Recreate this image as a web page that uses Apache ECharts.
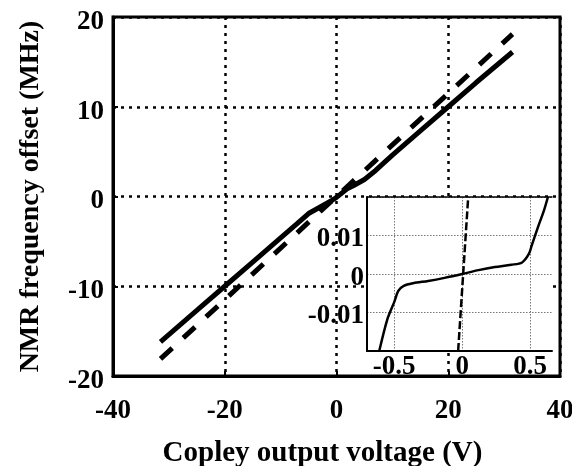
<!DOCTYPE html>
<html>
<head>
<meta charset="utf-8">
<script src="https://cdn.jsdelivr.net/npm/echarts@6/dist/echarts.min.js"></script>
<style>
html,body{margin:0;padding:0;background:#fff;}
#chart{width:572px;height:466px;}
</style>
</head>
<body>
<div id="chart"></div>
<script>
// Main plot data (Copley output voltage in V, NMR frequency offset in MHz)
var mainSolidV = [-31.5, -25, -20, -15, -10, -7, -5, -3, -1, 0, 1, 2, 3, 5, 7, 10, 15, 20, 25, 31.5];
var mainSolidF = [-16.2, -12.7, -10.0, -7.3, -4.6, -3.0, -1.9, -1.2, -0.5, -0.1, 0.4, 0.9, 1.2, 1.9, 2.9, 4.6, 7.3, 10.0, 12.7, 16.1];
var mainDashV = [-31.5, 31.5];
var mainDashF = [-18.1, 18.1];

// Inset data
var insetSolidV = [-0.61, -0.55, -0.50, -0.47, -0.43, -0.36, -0.25, -0.13, 0, 0.12, 0.24, 0.36, 0.44, 0.49, 0.51, 0.56, 0.60, 0.63];
var insetSolidF = [-0.02, -0.0117, -0.0073, -0.0044, -0.0031, -0.0024, -0.0018, -0.001, 0, 0.001, 0.0018, 0.0024, 0.003, 0.0052, 0.0073, 0.0125, 0.0164, 0.02];
var insetDashV = [-0.03, 0.044];
var insetDashF = [-0.02, 0.02];

// Tick labels
var mainXTicks = [-40, -20, 0, 20, 40];
var mainYTicks = [-20, -10, 0, 10, 20];
var insetXTicks = [-0.5, 0, 0.5];
var insetYTicks = [-0.01, 0, 0.01];

function zip(a, b) { return a.map(function (v, i) { return [v, b[i]]; }); }

var FONT = 'Liberation Serif';
var labelStyle = { fontFamily: FONT, fontWeight: 'bold', fontSize: 27, color: '#000' };

var chart = echarts.init(document.getElementById('chart'), null, { renderer: 'canvas' });
chart.setOption({
  animation: false,
  backgroundColor: '#fff',
  grid: [
    { left: 113, top: 17, right: 12, bottom: 90, show: true, borderColor: '#000', borderWidth: 3, backgroundColor: 'transparent', z: 0, containLabel: false, outerBoundsMode: 'none' },
    { left: 367, top: 197, right: 20, bottom: 115, show: true, borderWidth: 0, backgroundColor: '#fff', z: 10, containLabel: false, outerBoundsMode: 'none' }
  ],
  xAxis: [
    {
      type: 'value', gridIndex: 0, min: mainXTicks[0], max: mainXTicks[mainXTicks.length - 1], interval: 20,
      name: 'Copley output voltage (V)', nameLocation: 'middle', nameGap: 63,
      nameTextStyle: { fontFamily: FONT, fontWeight: 'bold', fontSize: 29, color: '#000', padding: [0, 28, 0, 0] },
      axisLine: { show: true, onZero: false, lineStyle: { color: '#000', width: 3 } },
      axisTick: { show: true, inside: true, length: 5, lineStyle: { color: '#000', width: 2 } },
      axisLabel: Object.assign({ margin: 22 }, labelStyle),
      splitLine: { show: true, lineStyle: { color: '#000', width: 2.5, type: [3, 5] } }
    },
    {
      type: 'value', gridIndex: 1, min: -0.7, max: 0.66, z: 11,
      axisLine: { show: true, onZero: false, lineStyle: { color: '#000', width: 2 } },
      axisTick: { show: false, customValues: insetXTicks },
      axisLabel: Object.assign({ margin: 3, customValues: insetXTicks }, labelStyle),
      splitLine: { show: true, lineStyle: { color: '#777', width: 1, type: [1.5, 1.5] } }
    },
    {
      type: 'value', gridIndex: 1, min: -0.7, max: 0.66, position: 'top', z: 11,
      axisLine: { show: true, onZero: false, lineStyle: { color: '#000', width: 1.5 } },
      axisTick: { show: false }, axisLabel: { show: false }, splitLine: { show: false }
    }
  ],
  yAxis: [
    {
      type: 'value', gridIndex: 0, min: mainYTicks[0], max: mainYTicks[mainYTicks.length - 1], interval: 10,
      name: 'NMR frequency offset (MHz)', nameLocation: 'middle', nameGap: 68, nameRotate: 90,
      nameTextStyle: { fontFamily: FONT, fontWeight: 'bold', fontSize: 28, color: '#000' },
      axisLine: { show: true, onZero: false, lineStyle: { color: '#000', width: 3 } },
      axisTick: { show: true, inside: true, length: 5, lineStyle: { color: '#000', width: 2 } },
      axisLabel: Object.assign({
        margin: 9,
        formatter: function (v) { return '{a|' + v + '}'; },
        rich: { a: { fontFamily: FONT, fontWeight: 'bold', fontSize: 27, color: '#000', padding: [10, 0, 0, 0] } }
      }, labelStyle),
      splitLine: { show: true, lineStyle: { color: '#000', width: 2.5, type: [3, 5] } }
    },
    {
      type: 'value', gridIndex: 1, min: -0.02, max: 0.02, interval: 0.01, z: 11,
      axisLine: { show: true, onZero: false, lineStyle: { color: '#000', width: 2 } },
      axisTick: { show: false },
      axisLabel: Object.assign({
        margin: 3,
        formatter: function (v) {
          var r = Math.round(v * 100) / 100;
          return insetYTicks.indexOf(r) >= 0 ? '{a|' + String(r) + '}' : '';
        },
        rich: { a: { fontFamily: FONT, fontWeight: 'bold', fontSize: 27, color: '#000', padding: [8, 0, 0, 0] } }
      }, labelStyle),
      splitLine: { show: true, lineStyle: { color: '#777', width: 1, type: [1.5, 1.5] } }
    }
  ],
  series: [
    {
      type: 'line', xAxisIndex: 0, yAxisIndex: 0, data: zip(mainDashV, mainDashF), showSymbol: false, z: 2,
      lineStyle: { color: '#000', width: 5, type: [16, 15], cap: 'butt' }
    },
    {
      type: 'line', xAxisIndex: 0, yAxisIndex: 0, data: zip(mainSolidV, mainSolidF), showSymbol: false, z: 3,
      lineStyle: { color: '#000', width: 5 }
    },
    {
      type: 'line', xAxisIndex: 1, yAxisIndex: 1, data: zip(insetDashV, insetDashF), showSymbol: false, z: 12,
      lineStyle: { color: '#000', width: 2.5, type: [8, 3] }
    },
    {
      type: 'line', xAxisIndex: 1, yAxisIndex: 1, data: zip(insetSolidV, insetSolidF), showSymbol: false, smooth: 0.3, z: 13,
      lineStyle: { color: '#000', width: 2.5 }
    }
  ]
});
</script>
</body>
</html>
